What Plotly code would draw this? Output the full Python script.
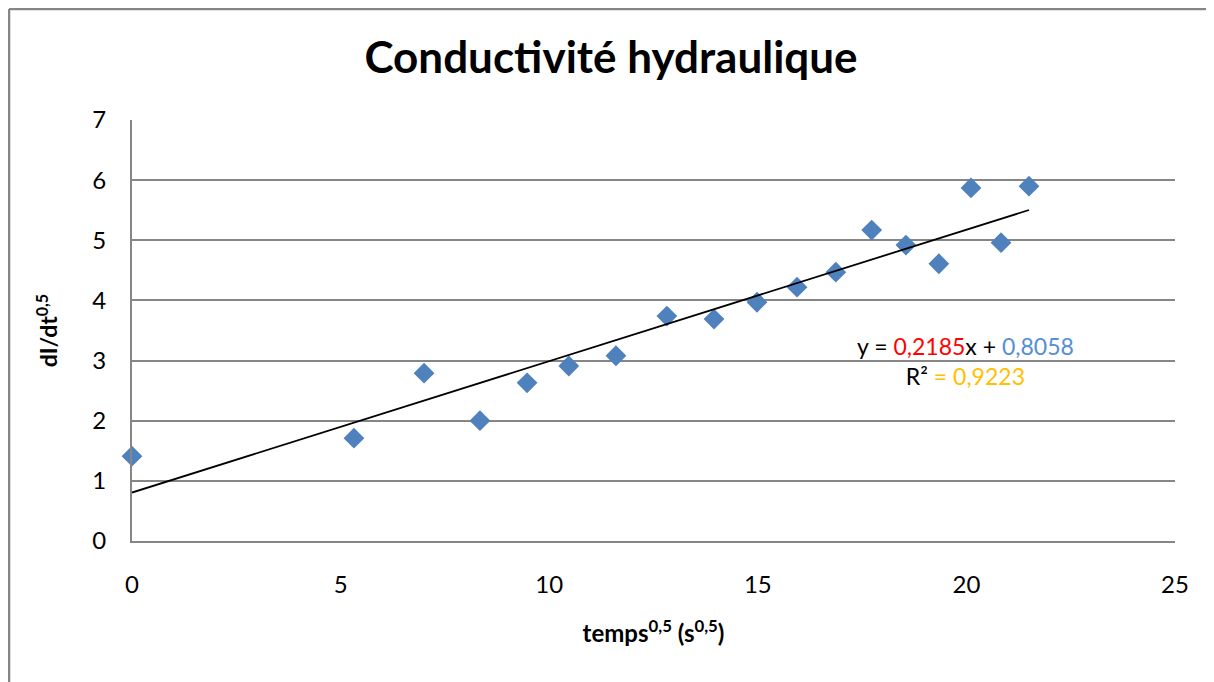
import plotly.graph_objects as go

# Data
temps_sqrt = [0.0, 5.32, 7.0, 8.34, 9.47, 10.47, 11.6, 12.82, 13.95, 14.98,
              15.94, 16.87, 17.73, 18.55, 19.34, 20.11, 20.83, 21.5]
di_dt = [1.41, 1.71, 2.79, 2.0, 2.63, 2.91, 3.08, 3.74, 3.69, 3.97,
         4.22, 4.47, 5.17, 4.92, 4.61, 5.87, 4.96, 5.90]
slope = 0.2185
intercept = 0.8058
r2 = 0.9223

trend_x = [min(temps_sqrt), max(temps_sqrt)]
trend_y = [slope * v + intercept for v in trend_x]

FONT = "Lato, Open Sans, sans-serif"
GRID = "#868686"

fig = go.Figure()
fig.add_trace(go.Scatter(
    x=temps_sqrt, y=di_dt, mode="markers",
    marker=dict(symbol="diamond", size=16, color="#4F81BD", line=dict(width=0)),
    showlegend=False, cliponaxis=False,
))
fig.add_trace(go.Scatter(
    x=trend_x, y=trend_y, mode="lines",
    line=dict(color="black", width=1.8), showlegend=False,
))

fig.add_annotation(
    x=19.99, y=2.99, xref="x", yref="y",
    text=("y = <span style='color:#FF0000'>0,2185</span>x + "
          "<span style='color:#558ED5'>0,8058</span><br>"
          "R² <span style='color:#FFC000'>= 0,9223</span>"),
    showarrow=False, align="center", xanchor="center", yanchor="middle",
    font=dict(family=FONT, size=23, color="black"),
)

# outer chart frame (left and top edges)
fig.add_shape(type="line", xref="paper", yref="paper",
              x0=-0.1179, x1=-0.1179, y0=-0.4, y1=1.2637,
              line=dict(color=GRID, width=2.5))
fig.add_shape(type="line", xref="paper", yref="paper",
              x0=-0.1179, x1=1.1, y0=1.2637, y1=1.2637,
              line=dict(color=GRID, width=2.5))

fig.update_layout(
    width=1206, height=674,
    margin=dict(l=124, r=39, t=112, b=141),
    paper_bgcolor="white", plot_bgcolor="white",
    font=dict(family=FONT, color="black"),
    title=dict(text="<b>Conductivité hydraulique</b>",
               xref="container", x=0.5, y=0.926,
               xanchor="center", yanchor="middle",
               font=dict(family=FONT, size=44, color="black")),
    xaxis=dict(range=[0, 25], dtick=5, tick0=0,
               showgrid=False, zeroline=False,
               showline=True, linecolor=GRID, linewidth=2,
               ticks="", ticklabelstandoff=21,
               tickfont=dict(family=FONT, size=24),
               title=dict(text="<b>temps<sup>0,5</sup> (s<sup>0,5</sup>)</b>",
                          font=dict(family=FONT, size=24), standoff=28)),
    yaxis=dict(range=[0, 7], dtick=1, tick0=0,
               showgrid=True, gridcolor=GRID, gridwidth=1.5,
               zeroline=False,
               showline=True, linecolor=GRID, linewidth=2,
               ticks="", ticklabelstandoff=19,
               tickfont=dict(family=FONT, size=24),
               title=dict(text="<b>dI/dt<sup>0,5</sup></b>",
                          font=dict(family=FONT, size=23), standoff=28)),
)

fig.write_html("out.html")
